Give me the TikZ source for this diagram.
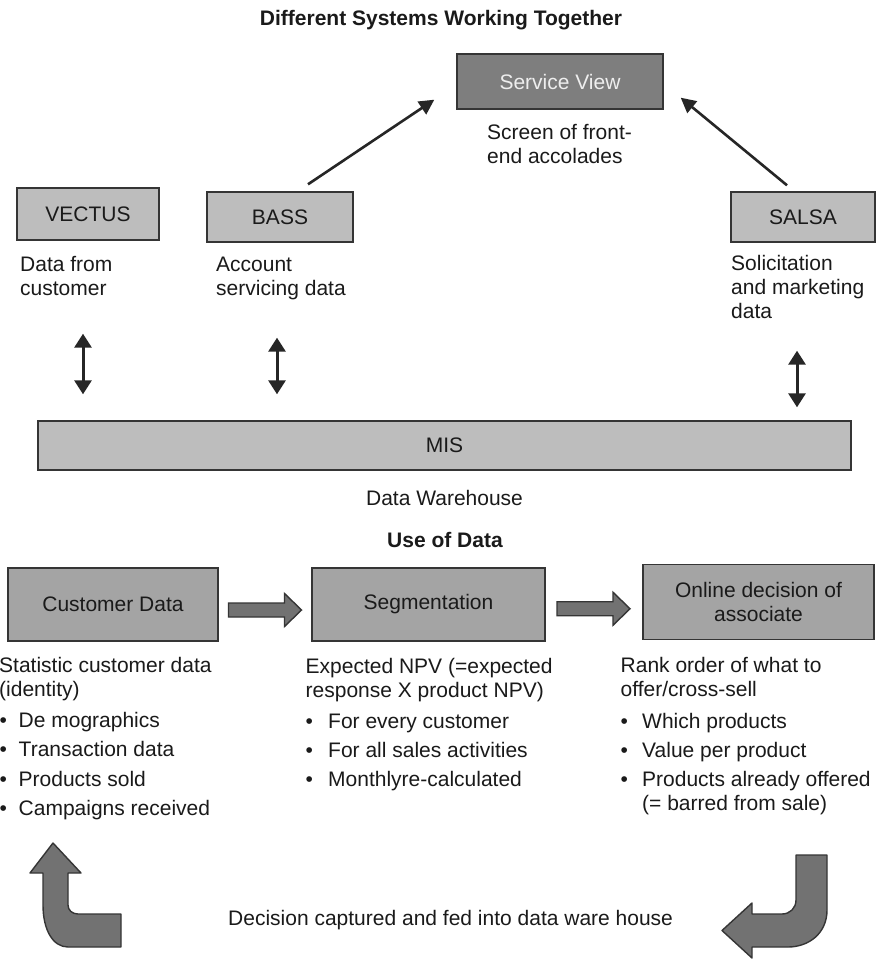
\documentclass[tikz,border=0pt]{standalone}
\usepackage{fontspec}
\setmainfont{Liberation Sans}
\usetikzlibrary{arrows.meta,calc}

\definecolor{edgegray}{HTML}{353535}
\definecolor{inkgray}{HTML}{1A1A1A}
\definecolor{lightfill}{HTML}{BDBDBD}
\definecolor{midfill}{HTML}{A4A4A4}
\definecolor{svfill}{HTML}{7E7E7E}
\definecolor{svtext}{HTML}{EEEEEE}
\definecolor{arrowfill}{HTML}{727272}

% several lines, first baseline on the anchor
\newcommand{\tlines}[1]{\begin{tabular}[t]{@{}l@{}}#1\end{tabular}}
% bullet item with a fixed indent
\newcommand{\bul}[2][19pt]{\makebox[#1][l]{•}#2}

\begin{document}
\begin{tikzpicture}[x=1pt,y=-1pt,
  every node/.style={font=\fontsize{21}{24}\selectfont, text=inkgray},
  boxbase/.style={draw=edgegray, line width=1.4pt, inner sep=0pt, align=center},
  lightbox/.style={boxbase, fill=lightfill},
  midbox/.style={boxbase, fill=midfill},
  darkbox/.style={boxbase, fill=svfill, text=svtext},
  txt/.style={anchor=base west, inner sep=0pt},
  ctxt/.style={anchor=base, inner sep=0pt},
  heading/.style={ctxt, font=\bfseries\fontsize{21}{24}\selectfont},
  diagarrow/.style={draw=black!85, line width=2.6pt, -{Triangle[length=15pt,width=15pt]}},
  dblarrow/.style={draw=black!85, line width=3pt,
    {Triangle[length=14pt,width=17pt]}-{Triangle[length=14pt,width=17pt]}},
  blockarrow/.style={draw=edgegray, line width=1.4pt, fill=arrowfill, line join=miter},
  uturn/.style={draw=edgegray, line width=1.4pt, fill=arrowfill, line join=round}]

\useasboundingbox[fill=white] (0,0) rectangle (876,960);

% ---------- upper part: systems ----------
\node[heading] (title) at (441,26) {Different Systems Working Together};

\node[darkbox, minimum width=206pt, minimum height=55pt] (sv) at (560,81.5) {Service View};
\node[txt] (svnote) at (487,140) {\tlines{Screen of front-\\end accolades}};

\node[lightbox, minimum width=142pt, minimum height=52pt] (vectus) at (88,214) {VECTUS};
\node[lightbox, minimum width=146pt, minimum height=50pt] (bass) at (280,217) {BASS};
\node[lightbox, minimum width=144pt, minimum height=50pt] (salsa) at (803,217) {SALSA};

\node[txt] (vnote) at (20,271) {\tlines{Data from\\customer}};
\node[txt] (bnote) at (216,271) {\tlines{Account\\servicing data}};
\node[txt] (snote) at (731,270) {\tlines{Solicitation\\and marketing\\data}};

\node[lightbox, minimum width=813pt, minimum height=49pt] (mis) at (444.5,445.5) {MIS};
\node[ctxt] (dw) at (444.5,505) {Data Warehouse};

% feeds into the service view
\draw[diagarrow] ([xshift=28pt,yshift=7pt]bass.north) -- ([xshift=-22pt,yshift=10pt]sv.south west);
\draw[diagarrow] ([xshift=-16pt,yshift=6pt]salsa.north) -- ([xshift=17pt,yshift=12pt]sv.south east);

% exchanges with the warehouse
\coordinate (va) at ([xshift=-5pt]vectus.south);
\coordinate (ba) at ([xshift=-3pt]bass.south);
\coordinate (sa) at ([xshift=-6pt]salsa.south);
\draw[dblarrow, shorten <=93pt, shorten >=26pt] (va) -- (va |- mis.north);
\draw[dblarrow, shorten <=95pt, shorten >=26pt] (ba) -- (ba |- mis.north);
\draw[dblarrow, shorten <=108pt, shorten >=13pt] (sa) -- (sa |- mis.north);

% ---------- lower part: use of data ----------
\node[heading] (use) at (445,547) {Use of Data};

\node[midbox, minimum width=210pt, minimum height=73pt] (cd) at (113,604.5) {Customer Data};
\node[midbox, minimum width=233pt, minimum height=73pt] (seg) at (428.5,604.5) {Segmentation};
\node[midbox, minimum width=231pt, minimum height=75pt] (onl) at (758.5,602)
  {Online decision of\\associate};

\coordinate (m1) at ($(cd.east)!0.5!(seg.west)$);
\coordinate (m2) at ($(seg.east)!0.5!(onl.west)$);
\draw[blockarrow] ([shift={(-36.5,-1.5)}]m1) -- ++(56,0) -- ++(0,-9.5) -- ++(17,16.5)
  -- ++(-17,16.5) -- ++(0,-9.5) -- ++(-56,0) -- cycle;
\draw[blockarrow] ([shift={(-37,-1.5)}]m2) -- ++(56,0) -- ++(0,-9.5) -- ++(17,16.5)
  -- ++(-17,16.5) -- ++(0,-9.5) -- ++(-56,0) -- cycle;

% descriptions
\node[txt] (cdnote) at (-1,672) {\tlines{Statistic customer data\\(identity)}};
\node[txt] (cd1) at (-0.5,727) {\bul{De mographics}};
\node[txt] (cd2) at (-0.5,756.5) {\bul{Transaction data}};
\node[txt] (cd3) at (-0.5,786) {\bul{Products sold}};
\node[txt] (cd4) at (-0.5,815.5) {\bul{Campaigns received}};

\node[txt] (segnote) at (305.5,673) {\tlines{Expected NPV (=expected\\response X product NPV)}};
\node[txt] (sg1) at (305.5,728) {\bul[22.5pt]{For every customer}};
\node[txt] (sg2) at (305.5,757) {\bul[22.5pt]{For all sales activities}};
\node[txt] (sg3) at (305.5,786) {\bul[22.5pt]{Monthlyre-calculated}};

\node[txt] (onlnote) at (620.5,672) {\tlines{Rank order of what to\\offer/cross-sell}};
\node[txt] (on1) at (620.5,728) {\bul[21.5pt]{Which products}};
\node[txt] (on2) at (620.5,757) {\bul[21.5pt]{Value per product}};
\node[txt] (on3) at (620.5,786) {\bul[21.5pt]{\tlines{Products already offered\\(= barred from sale)}}};

% feedback loop
\node[txt] (loop) at (228,925) {Decision captured and fed into data ware house};

\draw[uturn] (53,843) -- (81,873) -- (68,873) -- (68,905)
  .. controls (68,910) and (72,914) .. (78,914) -- (121,914) -- (121,947) -- (68,947)
  .. controls (53,947) and (43,930) .. (43,905) -- (43,873) -- (30,873) -- cycle;

\draw[uturn] (796,855) -- (827,855) -- (827,910)
  .. controls (827,934) and (808,947) .. (788,947) -- (752,947) -- (752,958)
  -- (722,930.5) -- (752,903) -- (752,914) -- (782,914)
  .. controls (790,914) and (796,908) .. (796,900) -- cycle;

\end{tikzpicture}
\end{document}
